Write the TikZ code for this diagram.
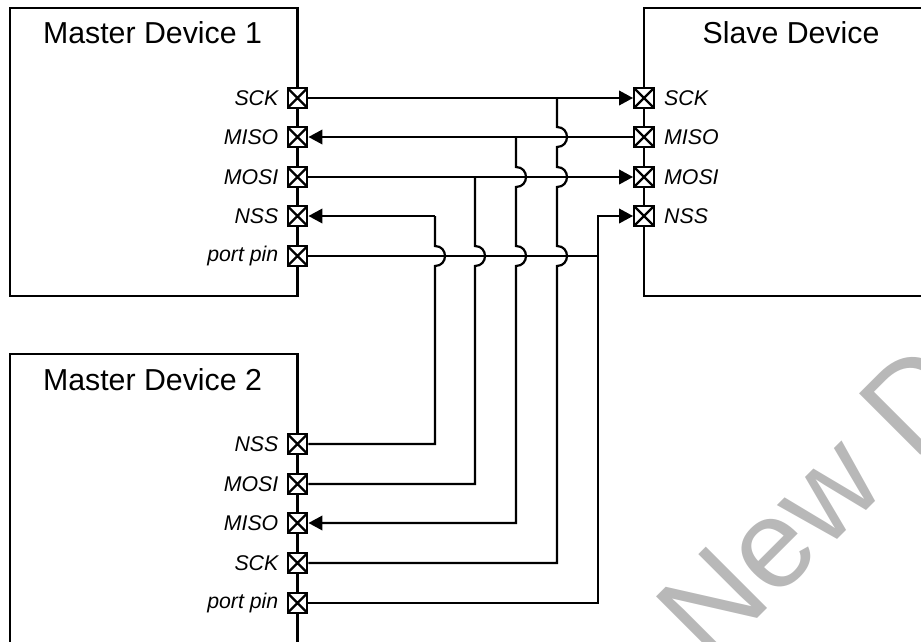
\documentclass[tikz,border=0pt]{standalone}
\usepackage{fontspec}
\setmainfont{Liberation Sans}
\usetikzlibrary{arrows.meta}
\newcommand{\hop}{.. controls +(13.3,0) and +(13.3,0) .. ++(0,20)}
\tikzset{
  device/.style={draw=black,line width=2.2pt},
  pinbox/.style={draw=black,fill=white,line width=2.4pt,minimum size=19.5pt,inner sep=0pt,
    path picture={\draw[line width=2.2pt] (path picture bounding box.south west) -- (path picture bounding box.north east)
      (path picture bounding box.north west) -- (path picture bounding box.south east);}},
  wire/.style={draw=black,line width=2.2pt},
  arr/.style={wire,-{Triangle[length=14pt,width=14.5pt]}},
  title/.style={font=\fontsize{30.3}{34}\selectfont,anchor=base,inner sep=0pt},
  pinlabel/.style={font=\fontsize{21.3}{24}\selectfont\itshape,inner sep=0pt}
}
\begin{document}
\begin{tikzpicture}[x=1pt,y=-1pt]
\useasboundingbox (0,0) rectangle (921,642);
\begin{scope}
\clip (0,0) rectangle (921,642);
\node[rotate=45,anchor=base west,inner sep=0pt,text=black!28,font=\fontsize{126}{126}\selectfont] (wm) at (710,666) {New D};
\draw[device] (10,8) rectangle (297.5,296);
\draw[device] (644,8) rectangle (930,296);
\draw[device] (10,354) rectangle (297.5,660);
\end{scope}
\node[title] (t1) at (152.5,44) {Master Device 1};
\node[title] (t2) at (791,44) {Slave Device};
\node[title] (t3) at (152.5,390) {Master Device 2};
% pins
\foreach \n/\y/\t in {asck/98/SCK,amiso/137/MISO,amosi/177/MOSI,anss/216/NSS,aport/256/port pin,
                      bnss/444/NSS,bmosi/484/MOSI,bmiso/523/MISO,bsck/563/SCK,bport/603/port pin}{
  \node[pinbox] (\n) at (297.5,\y) {};
  \node[pinlabel,anchor=east] (\n l) at (278.5,\y) {\t};
}
\foreach \n/\y/\t in {ssck/98/SCK,smiso/137/MISO,smosi/177/MOSI,snss/216/NSS}{
  \node[pinbox] (\n) at (644,\y) {};
  \node[pinlabel,anchor=west] (\n l) at (664,\y) {\t};
}
% branch points
\coordinate (jsck) at (557,98);
\coordinate (jmiso) at (516,137);
\coordinate (jmosi) at (475,177);
\coordinate (jnss) at (435,216);
\coordinate (jport) at (598,256);
% horizontal runs
\draw[arr] (asck) -- (ssck);
\draw[arr] (smiso) -- (amiso);
\draw[arr] (amosi) -- (smosi);
\draw[wire] (aport) -- (jport);
\draw[arr] (jport) |- (snss);
% verticals
\draw[arr] (jnss) -- (anss);
\draw[wire] (jnss) -- (435,246) \hop |- (bnss);
\draw[wire] (jmosi) -- (475,246) \hop |- (bmosi);
\draw[arr] (jmiso) -- (516,167) \hop -- (516,246) \hop |- (bmiso);
\draw[wire] (jsck) -- (557,127) \hop -- (557,167) \hop -- (557,246) \hop |- (bsck);
\draw[wire] (jport) |- (bport);
\end{tikzpicture}
\end{document}
